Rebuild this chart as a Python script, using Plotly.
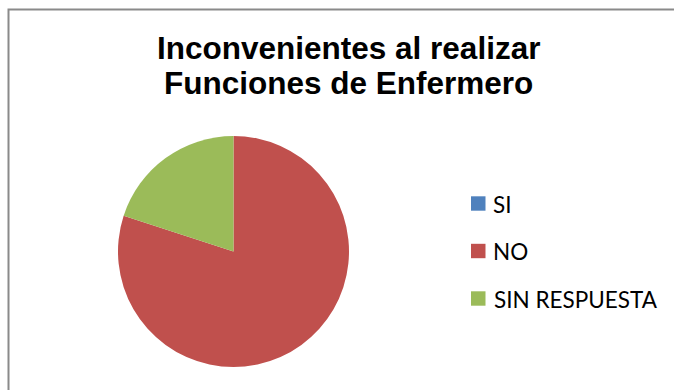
import plotly.graph_objects as go

W, H = 674, 390

# Chart data
labels = ["SI", "NO", "SIN RESPUESTA"]
values = [0, 80, 20]
colors = ["#4F81BD", "#C0504D", "#9BBB59"]
title_lines = ["Inconvenientes al realizar", "Funciones de Enfermero"]


def px(x):
    return x / W


def py(y):
    return 1 - y / H


fig = go.Figure()

# Pie centred at (233.5, 251.5) with a radius of ~115.5 px
cx, cy, r = 233.5, 251.5, 115.5
fig.add_trace(go.Pie(
    labels=labels,
    values=values,
    marker=dict(colors=colors, line=dict(width=0)),
    sort=False,
    direction="clockwise",
    rotation=0,
    textinfo="none",
    hoverinfo="label+value+percent",
    showlegend=False,
    domain=dict(x=[px(cx - r), px(cx + r)], y=[py(cy + r), py(cy - r)]),
))

annotations = []
shapes = []

# Two-line chart title
for i, line in enumerate(title_lines):
    annotations.append(dict(
        text=f"<b>{line}</b>", x=px(348.5), y=py(48 + i * 34.5),
        xref="paper", yref="paper", xanchor="center", yanchor="middle",
        showarrow=False,
        font=dict(family="Liberation Sans, Arial, sans-serif", size=31.5, color="#000000"),
    ))

# Legend: colour swatch plus label for every category
for i, (lab, col) in enumerate(zip(labels, colors)):
    yc = 204 + i * 47.5
    shapes.append(dict(
        type="rect", xref="paper", yref="paper",
        x0=px(471), x1=px(485.5), y0=py(yc - 0.5 + 7.2), y1=py(yc - 0.5 - 7.2),
        fillcolor=col, line=dict(width=0),
    ))
    annotations.append(dict(
        text=lab, x=px(491.5), y=py(yc),
        xref="paper", yref="paper", xanchor="left", yanchor="middle",
        showarrow=False,
        font=dict(family="Lato, Open Sans, sans-serif", size=22.5, color="#000000"),
    ))

# Chart-area border (runs past the right and bottom edges)
shapes.append(dict(
    type="rect", xref="paper", yref="paper",
    x0=px(8.5), y1=py(9.5), x1=px(W + 20), y0=py(H + 20),
    line=dict(color="#8a8a8a", width=2), fillcolor="rgba(0,0,0,0)",
))

fig.update_layout(
    width=W, height=H,
    margin=dict(l=0, r=0, t=0, b=0),
    paper_bgcolor="#ffffff",
    plot_bgcolor="#ffffff",
    annotations=annotations,
    shapes=shapes,
)

fig.write_html("out.html")
